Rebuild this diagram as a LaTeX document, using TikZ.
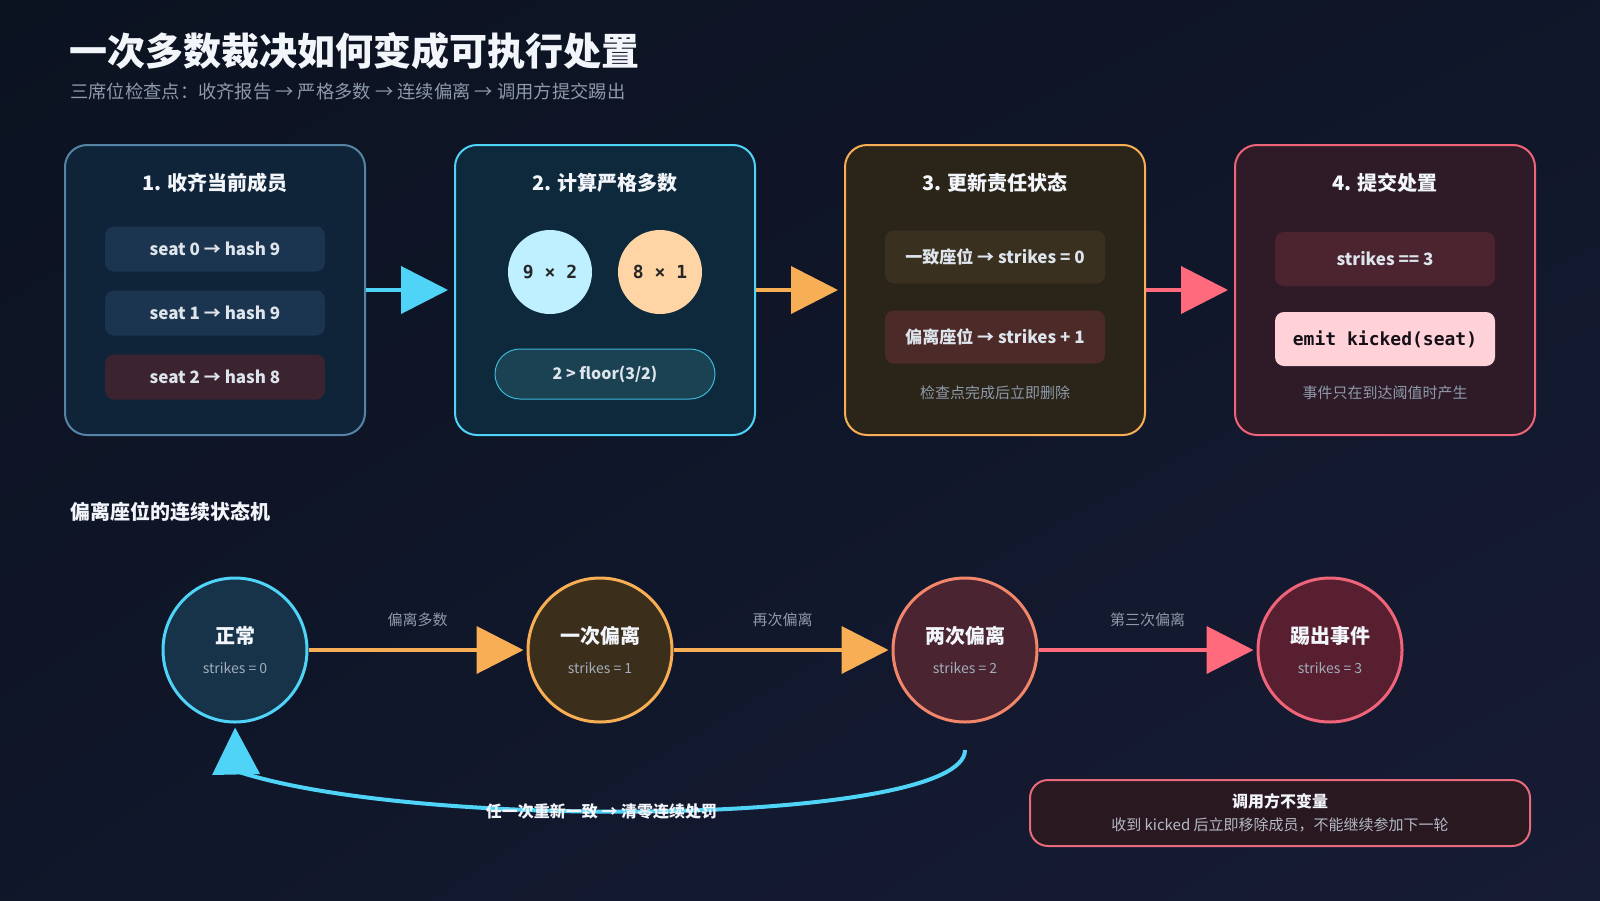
\documentclass[tikz,border=0pt]{standalone}
\usepackage{fontspec}
\setmainfont{Noto Sans CJK SC}
\newfontfamily\codefont{DejaVu Sans Mono}
\usetikzlibrary{arrows.meta,positioning,shapes.geometric,shadings}
\newcommand{\fsz}[1]{\fontsize{#1}{#1}\selectfont}
\definecolor{bgA}{HTML}{0B1220}
\definecolor{bgB}{HTML}{171C35}
\definecolor{ink}{HTML}{F2F5FA}
\definecolor{muted}{HTML}{8E99AA}
\definecolor{softmuted}{HTML}{A3ADBB}
\definecolor{rowtext}{HTML}{DDE4EC}
\definecolor{cyanline}{HTML}{4FD4F7}
\definecolor{orangeline}{HTML}{F7AE55}
\definecolor{pinkline}{HTML}{FF6B7C}
\definecolor{coralline}{HTML}{F2866A}
\definecolor{redline}{HTML}{F0647A}
\definecolor{steelline}{HTML}{5584A6}
\definecolor{quorumline}{HTML}{3CB8D8}
\definecolor{noteline}{HTML}{E66A7C}
\definecolor{fillone}{HTML}{0F2439}
\definecolor{filltwo}{HTML}{0E293C}
\definecolor{fillthree}{HTML}{2B2419}
\definecolor{fillfour}{HTML}{2E1B27}
\definecolor{rowblue}{HTML}{1B3550}
\definecolor{rowred}{HTML}{3B2430}
\definecolor{rowteal}{HTML}{1B4252}
\definecolor{rowbrown}{HTML}{3A3020}
\definecolor{rowrust}{HTML}{4B2A28}
\definecolor{rowplum}{HTML}{4B2430}
\definecolor{rowpink}{HTML}{FFD1D8}
\definecolor{codeink}{HTML}{151018}
\definecolor{lightcyan}{HTML}{BFF0FF}
\definecolor{peach}{HTML}{FFD5A5}
\definecolor{statezero}{HTML}{163349}
\definecolor{stateone}{HTML}{3B2E1B}
\definecolor{statetwo}{HTML}{4A2430}
\definecolor{statethree}{HTML}{571F30}
\definecolor{notefill}{HTML}{2A1821}
\definecolor{notetext}{HTML}{B3BAC6}

\begin{document}
\begin{tikzpicture}[x=1pt, y=-1pt,
    every node/.style={align=center, inner sep=0pt},
    stage/.style={rectangle, rounded corners=22pt, minimum width=300pt, minimum height=290pt, line width=2pt},
    stagetitle/.style={font=\fsz{20}\bfseries, text=ink},
    row/.style={rectangle, rounded corners=9pt, minimum width=220pt, minimum height=45pt, font=\fsz{17}\bfseries, text=rowtext},
    foot/.style={font=\fsz{15}, text=muted},
    count/.style={circle, minimum size=84pt, font=\fsz{18}\codefont\bfseries, text=black!85},
    bigarrow/.style={line width=4pt, -{Triangle[length=47pt, width=47pt]}},
    state/.style={circle, minimum size=144pt, line width=3pt, font=\fsz{20}, text=ink},
    edgelabel/.style={font=\fsz{15}, text=muted}
]
\useasboundingbox (0,0) rectangle (1600,900);
\shade[upper left=bgA, lower right=bgB, upper right=bgA!55!bgB, lower left=bgA!55!bgB] (0,0) rectangle (1600,900);

% Heading
\node[anchor=west, font=\fsz{38}\bfseries, text=ink] (title) at (69,51) {一次多数裁决如何变成可执行处置};
\node[anchor=west, font=\fsz{18.3}, text=muted] (subtitle) at (70,92) {三席位检查点：收齐报告 → 严格多数 → 连续偏离 → 调用方提交踢出};

% Four stages
\node[stage, draw=steelline, fill=fillone] (st1) at (215,290) {};
\node[stage, draw=cyanline, fill=filltwo] (st2) at (605,290) {};
\node[stage, draw=orangeline, fill=fillthree] (st3) at (995,290) {};
\node[stage, draw=redline, fill=fillfour] (st4) at (1385,290) {};

\node[stagetitle] (t1) at (215,183) {1. 收齐当前成员};
\node[stagetitle] (t2) at (605,183) {2. 计算严格多数};
\node[stagetitle] (t3) at (995,183) {3. 更新责任状态};
\node[stagetitle] (t4) at (1385,183) {4. 提交处置};

% stage 1
\node[row, fill=rowblue] (seat0) at (215,249) {seat 0 → hash 9};
\node[row, fill=rowblue] (seat1) at (215,313) {seat 1 → hash 9};
\node[row, fill=rowred] (seat2) at (215,377) {seat 2 → hash 8};

% stage 2
\node[count, fill=lightcyan] (votes9) at (550,272) {9 × 2};
\node[count, fill=peach] (votes8) at (660,272) {8 × 1};
\node[row, font=\fsz{16}\bfseries, rounded corners=25pt, minimum height=50pt, fill=rowteal, draw=quorumline, line width=1pt] (quorum) at (605,374) {2 > floor(3/2)};

% stage 3
\node[row, minimum height=53pt, fill=rowbrown] (agree) at (995,257) {一致座位 → strikes = 0};
\node[row, minimum height=53pt, fill=rowrust] (deviate) at (995,337) {偏离座位 → strikes + 1};
\node[foot] (note3) at (995,393) {检查点完成后立即删除};

% stage 4
\node[row, minimum height=54pt, fill=rowplum] (limit) at (1385,259) {strikes == 3};
\node[row, minimum height=54pt, fill=rowpink, text=codeink, font=\fsz{18}\codefont\bfseries] (emit) at (1385,339) {emit kicked(seat)};
\node[foot] (note4) at (1385,393) {事件只在到达阈值时产生};

\draw[bigarrow, cyanline, shorten >=6pt] (st1) -- (st2);
\draw[bigarrow, orangeline, shorten >=6pt] (st2) -- (st3);
\draw[bigarrow, pinkline, shorten >=6pt] (st3) -- (st4);

% State machine
\node[anchor=west, font=\fsz{20}\bfseries, text=ink] (machine) at (70,512) {偏离座位的连续状态机};

\node[state, draw=cyanline, fill=statezero] (s0) at (235,650) {{\bfseries 正常}\\[10pt]{\fsz{14}\color{softmuted}strikes = 0}};
\node[state, draw=orangeline, fill=stateone] (s1) at (600,650) {{\bfseries 一次偏离}\\[10pt]{\fsz{14}\color{softmuted}strikes = 1}};
\node[state, draw=coralline, fill=statetwo] (s2) at (965,650) {{\bfseries 两次偏离}\\[10pt]{\fsz{14}\color{softmuted}strikes = 2}};
\node[state, draw=redline, fill=statethree] (s3) at (1330,650) {{\bfseries 踢出事件}\\[10pt]{\fsz{14}\color{softmuted}strikes = 3}};

\draw[bigarrow, orangeline, shorten >=3pt] (s0) -- (s1) node[edgelabel, midway, above=21pt] {偏离多数};
\draw[bigarrow, orangeline, shorten >=3pt] (s1) -- (s2) node[edgelabel, midway, above=21pt] {再次偏离};
\draw[bigarrow, pinkline, shorten >=3pt] (s2) -- (s3) node[edgelabel, midway, above=21pt] {第三次偏离};

% reset loop
\coordinate (loopstart) at (965,750);
\coordinate (loopend) at (236,771);
\draw[bigarrow, cyanline, shorten >=4pt] (loopstart) .. controls (965,824) and (420,832) .. (loopend)
    node[pos=0.57, font=\fsz{16}\bfseries, text=ink] (resetlabel) {任一次重新一致 → 清零连续处罚}
    -- (s0.south);

% Caller invariant
\node[rectangle, rounded corners=18pt, minimum width=500pt, minimum height=66pt, line width=2pt, draw=noteline, fill=notefill, text=ink] (invariant) at (1280,813)
    {{\fsz{16}\bfseries 调用方不变量}\\[8pt]{\fsz{15}\color{notetext}收到 kicked 后立即移除成员，不能继续参加下一轮}};

\end{tikzpicture}
\end{document}
